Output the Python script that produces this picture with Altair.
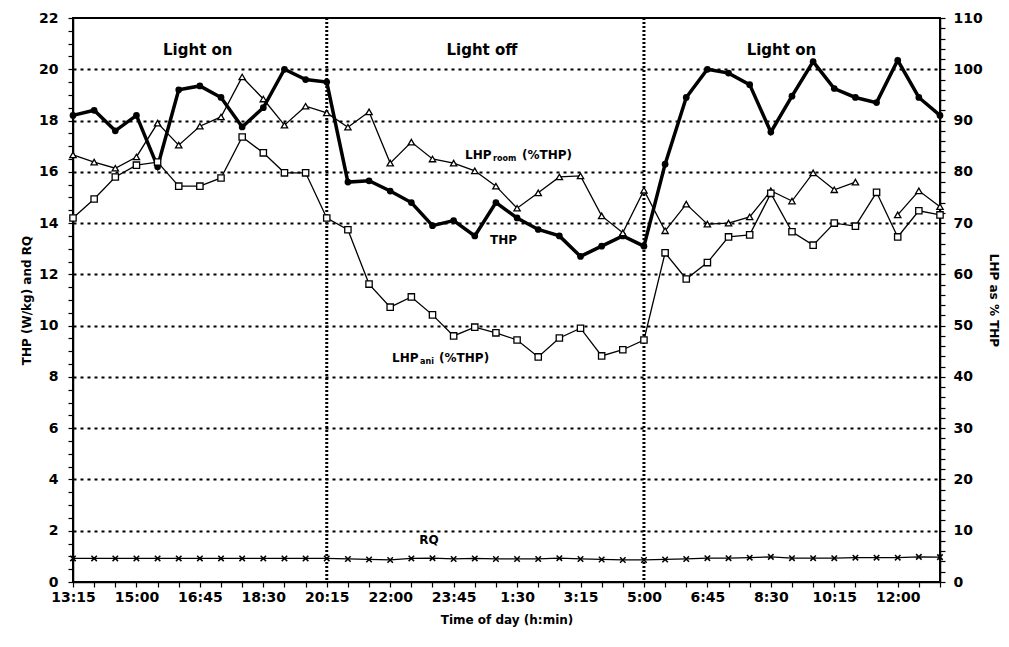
import altair as alt
import pandas as pd

# ---------------- data ----------------
tick_labels = ["13:15", "15:00", "16:45", "18:30", "20:15", "22:00", "23:45",
               "1:30", "3:15", "5:00", "6:45", "8:30", "10:15", "12:00"]

thp = [18.2, 18.4, 17.6, 18.2, 16.2, 19.2, 19.35, 18.9, 17.75, 18.5, 20.0, 19.6, 19.5,
       15.6, 15.65, 15.25, 14.8, 13.9, 14.1, 13.5, 14.8, 14.2, 13.75, 13.5, 12.7, 13.1, 13.5, 13.1,
       16.3, 18.9, 20.0, 19.85, 19.4, 17.55, 18.95, 20.3, 19.25, 18.9, 18.7, 20.35, 18.9, 18.2]

rq = [0.92, 0.92, 0.92, 0.92, 0.92, 0.92, 0.92, 0.92, 0.92, 0.92, 0.92, 0.92, 0.92,
      0.90, 0.88, 0.86, 0.92, 0.93, 0.90, 0.92, 0.90, 0.90, 0.90, 0.93, 0.90, 0.88, 0.86, 0.86,
      0.88, 0.90, 0.93, 0.93, 0.95, 0.98, 0.93, 0.93, 0.93, 0.95, 0.95, 0.95, 0.98, 0.97]

lhp_room = [83.3, 81.9, 80.7, 82.9, 89.5, 85.2, 88.9, 90.7, 98.5, 94.2, 89.1, 92.8, 91.5,
            88.7, 91.7, 81.7, 85.8, 82.5, 81.7, 80.2, 77.2, 72.9, 75.9, 79.0, 79.2, 71.4, 68.1, 76.4,
            68.5, 73.7, 69.8, 70.0, 71.2, 76.3, 74.3, 79.8, 76.5, 78.0, None, 71.6, 76.3, 73.2]

lhp_ani = [71.0, 74.7, 79.0, 81.3, 81.9, 77.2, 77.2, 78.8, 86.8, 83.7, 79.8, 79.8, 71.0,
           68.7, 58.1, 53.6, 55.6, 52.1, 48.0, 49.7, 48.6, 47.2, 43.9, 47.6, 49.5, 44.1, 45.3, 47.2,
           64.2, 59.1, 62.3, 67.3, 67.7, 75.8, 68.3, 65.7, 70.0, 69.4, 76.0, 67.3, 72.4, 71.6]

light_switch = [12, 27]

region_text = ["Light on", "Light off", "Light on"]
region_i = [5.9, 19.34, 33.5]
region_v = [20.75, 20.75, 20.75]

series_text = ["LHP", "(%THP)", "THP", "LHP", "(%THP)", "RQ"]
series_i = [18.54, 18.54, 20.43, 15.09, 15.09, 16.8]
series_v = [16.65, 16.65, 13.34, 8.74, 8.74, 1.64]
series_dx = [0, 57, -15, 0, 47, -9]

sub_text = ["room", "ani"]
sub_i = [18.54, 15.09]
sub_v = [16.65, 8.74]
sub_dx = [28, 28]

# ---------------- build ----------------
n = len(thp)
df = pd.DataFrame({"i": list(range(n)), "THP": thp, "RQ": rq,
                   "room": lhp_room, "ani": lhp_ani})
FONT = "DejaVu Sans"

label_arr = "[" + ",".join("'%s'" % t for t in tick_labels) + "]"
x_axis = alt.Axis(values=list(range(n)),
                  labelExpr="datum.value %% 3 === 0 ? %s[datum.value / 3] : ''" % label_arr,
                  title="Time of day (h:min)", grid=False, tickSize=5, labelPadding=3,
                  titlePadding=10, labelFlush=False, labelOverlap=False,
                  domainWidth=1.5, tickWidth=1.2)
x_scale = alt.Scale(domain=[0, n - 1], nice=False, zero=False)
X = alt.X("i:Q", scale=x_scale, axis=x_axis)

left_scale = alt.Scale(domain=[0, 22], nice=False)
left_axis = alt.Axis(values=[k * 0.5 for k in range(45)],
                     labelExpr="datum.value % 2 === 0 ? '' + datum.value : ''",
                     title="THP (W/kg) and RQ", grid=True,
                     gridOpacity={"condition": {"test": "datum.value % 2 === 0 && datum.value > 0 && datum.value < 22", "value": 1}, "value": 0},
                     gridDash=[3, 4], gridColor="black", gridWidth=2,
                     tickSize=5, tickWidth=1.2, labelPadding=10, titlePadding=5,
                     labelFlush=False, labelOverlap=False, domainWidth=1.5)

right_scale = alt.Scale(domain=[0, 110], nice=False)
right_axis = alt.Axis(orient="right", values=list(range(0, 111, 2)),
                      labelExpr="datum.value % 10 === 0 ? '' + datum.value : ''",
                      title="LHP as % THP", grid=False, tickSize=5, tickWidth=1.2,
                      labelPadding=8, titlePadding=4, labelFlush=False,
                      labelOverlap=False, domainWidth=1.5)

base = alt.Chart(df)

rules = alt.Chart(pd.DataFrame({"i": light_switch})).mark_rule(
    color="black", strokeWidth=3, strokeDash=[2, 2]).encode(x=X)

rq_layer = base.mark_line(
    color="black", strokeWidth=1.3,
    point=alt.OverlayMarkDef(shape="M-1,-1L1,1M1,-1L-1,1", size=30, filled=False,
                             stroke="black", strokeWidth=1.5)
).encode(x=X, y=alt.Y("RQ:Q", scale=left_scale, axis=left_axis))

thp_layer = base.mark_line(
    color="black", strokeWidth=3.5,
    point=alt.OverlayMarkDef(shape="circle", size=45, filled=True, fill="black")
).encode(x=X, y=alt.Y("THP:Q", scale=left_scale, axis=left_axis))

region_df = pd.DataFrame({"i": region_i, "v": region_v, "t": region_text})
region_layer = alt.Chart(region_df).mark_text(
    font=FONT, fontSize=15, fontWeight="bold", color="black", align="center", baseline="middle"
).encode(x=X, y=alt.Y("v:Q", scale=left_scale, axis=left_axis), text="t:N")

series_df = pd.DataFrame({"i": series_i, "v": series_v, "t": series_text, "dx": series_dx})
series_layers = []
for k in range(len(series_text)):
    series_layers.append(
        alt.Chart(series_df.iloc[[k]]).mark_text(
            font=FONT, fontSize=12, fontWeight="bold", color="black", align="left",
            baseline="middle", dx=series_dx[k]
        ).encode(x=X, y=alt.Y("v:Q", scale=left_scale, axis=left_axis), text="t:N"))

sub_df = pd.DataFrame({"i": sub_i, "v": sub_v, "t": sub_text})
sub_layers = []
for k in range(len(sub_text)):
    sub_layers.append(
        alt.Chart(sub_df.iloc[[k]]).mark_text(
            font=FONT, fontSize=8, fontWeight="bold", color="black", align="left",
            baseline="middle", dx=sub_dx[k], dy=4
        ).encode(x=X, y=alt.Y("v:Q", scale=left_scale, axis=left_axis), text="t:N"))

left = alt.layer(rules, rq_layer, thp_layer, region_layer, *series_layers, *sub_layers)

room_layer = base.mark_line(
    color="black", strokeWidth=1.3,
    point=alt.OverlayMarkDef(shape="triangle-up", size=40, filled=True, fill="white",
                             stroke="black", strokeWidth=1.3)
).encode(x=X, y=alt.Y("room:Q", scale=right_scale, axis=right_axis))

ani_layer = base.mark_line(
    color="black", strokeWidth=1.3,
    point=alt.OverlayMarkDef(shape="square", size=40, filled=True, fill="white",
                             stroke="black", strokeWidth=1.3)
).encode(x=X, y=alt.Y("ani:Q", scale=right_scale, axis=right_axis))

right = alt.layer(room_layer, ani_layer)

chart = alt.layer(left, right).resolve_scale(y="independent").properties(
    width=867, height=564,
    autosize=alt.AutoSizeParams(type="none"),
    padding={"left": 65, "top": 10, "right": 60, "bottom": 55},
).configure_view(stroke="black", strokeWidth=2).configure_axis(
    labelFont=FONT, labelFontSize=14, labelFontWeight="bold", labelColor="black",
    titleFont=FONT, titleFontSize=12, titleFontWeight="bold", titleColor="black",
    domainColor="black", tickColor="black"
)

chart.save("out.html", embed_options={"renderer": "svg", "actions": False})
